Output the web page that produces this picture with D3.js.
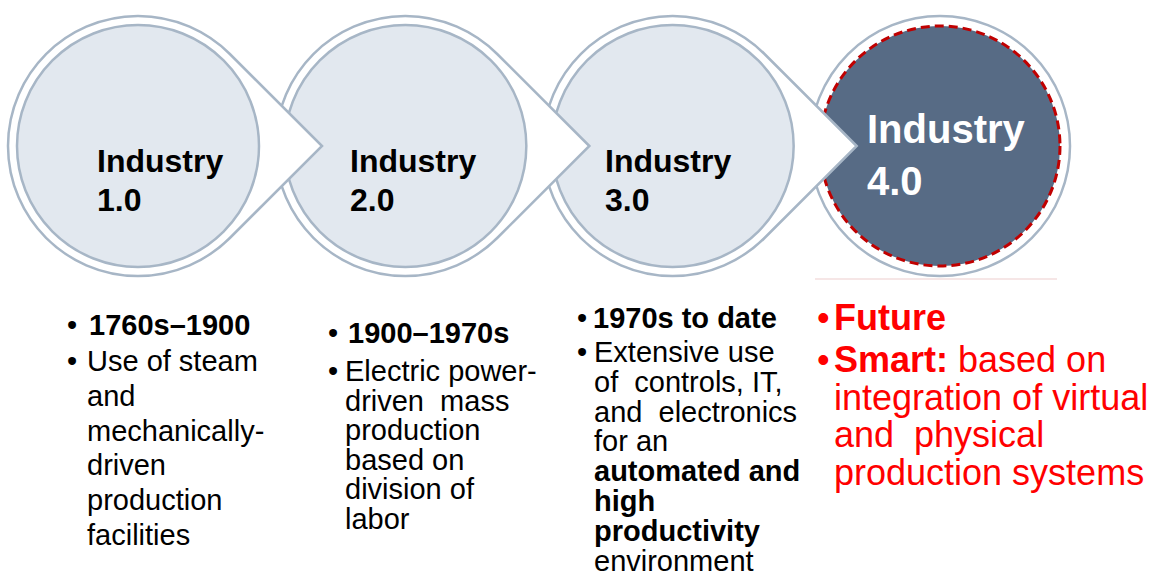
<!DOCTYPE html>
<html>
<head>
<meta charset="utf-8">
<script src="https://cdn.jsdelivr.net/npm/d3@7"></script>
<style>
  body { margin: 0; background: #fff; }
  svg { display: block; font-family: "Liberation Sans", Arial, sans-serif; }
</style>
</head>
<body>
<svg width="1154" height="577"></svg>
<script>
// stages of the industry timeline
const stages = ["1.0", "2.0", "3.0", "4.0"];
const stageWord = "Industry";
const periods = ["1760s–1900", "1900–1970s", "1970s to date", "Future"];

// description lines per stage, each line is a list of [text, bold]
const desc1 = [
  [["Use of steam", false]],
  [["and", false]],
  [["mechanically-", false]],
  [["driven", false]],
  [["production", false]],
  [["facilities", false]]
];
const desc2 = [
  [["Electric power-", false]],
  [["driven  mass", false]],
  [["production", false]],
  [["based on", false]],
  [["division of", false]],
  [["labor", false]]
];
const desc3 = [
  [["Extensive use", false]],
  [["of  controls, IT,", false]],
  [["and  electronics", false]],
  [["for an", false]],
  [["automated and", true]],
  [["high", true]],
  [["productivity", true]],
  [["environment", false]]
];
const desc4 = [
  [["Smart:", true], [" based on", false]],
  [["integration of virtual", false]],
  [["and  physical", false]],
  [["production systems", false]]
];
const descriptions = [desc1, desc2, desc3, desc4];

// layout
const svg = d3.select("svg");
const cy = 146;
const outerR = 130, innerR = 121;
const tipOffset = 184;
const grey = "#a7b6c6";

const x = d3.scaleLinear()
    .domain([0, stages.length - 1])
    .range([138, 940]);

// outline of circle plus arrow point to the right
function outline(cx, withArrow) {
  if (!withArrow) {
    return `M${cx - outerR},${cy} A${outerR},${outerR} 0 1 0 ${cx + outerR},${cy} A${outerR},${outerR} 0 1 0 ${cx - outerR},${cy} Z`;
  }
  const th = Math.acos(outerR / tipOffset);
  const ux = cx + outerR * Math.cos(th), uy = cy - outerR * Math.sin(th);
  const ly = cy + outerR * Math.sin(th);
  return `M${cx + tipOffset},${cy} L${ux},${uy} A${outerR},${outerR} 0 1 0 ${ux},${ly} Z`;
}

// draw from last to first so each arrow sits on top of the next circle
const shapes = svg.append("g");
d3.range(stages.length - 1, -1, -1).forEach(function(i) {
  const last = i === stages.length - 1;
  const g = shapes.append("g");
  g.append("path")
      .attr("d", outline(x(i), !last))
      .attr("fill", "#fff")
      .attr("stroke", grey)
      .attr("stroke-width", 2.5);
  g.append("circle")
      .attr("cx", x(i))
      .attr("cy", cy)
      .attr("r", last ? innerR - 1 : innerR)
      .attr("fill", last ? "#576b85" : "#e2e8ef")
      .attr("stroke", last ? "#c00000" : grey)
      .attr("stroke-width", last ? 3 : 2.5)
      .attr("stroke-dasharray", last ? "9,5" : null);
});

// faint line under the last circle
svg.append("line")
    .attr("x1", x(3) - 125).attr("x2", x(3) + 117)
    .attr("y1", 279).attr("y2", 279)
    .attr("stroke", "#f3dede")
    .attr("stroke-width", 1.5);

// circle labels
const labelX = [97, 350, 605, 867];
stages.forEach(function(s, i) {
  const last = i === stages.length - 1;
  const t = svg.append("text")
      .attr("font-weight", "bold")
      .attr("font-size", last ? 40 : 32)
      .attr("fill", last ? "#fff" : "#000");
  t.append("tspan").attr("x", labelX[i]).attr("y", last ? 143 : 172).text(stageWord);
  t.append("tspan").attr("x", labelX[i]).attr("y", last ? 195 : 211).text(s);
});

// bullet columns
const cols = [
  { bx: 67, tx: 89, lx: 87, y0: 335, y1: 371, dy: 34.8, size: 29, color: "#000" },
  { bx: 328, tx: 348, lx: 345, y0: 343, y1: 381, dy: 29.5, size: 29, color: "#000" },
  { bx: 577, tx: 593, lx: 594, y0: 328, y1: 362, dy: 29.8, size: 29, color: "#000" },
  { bx: 817, tx: 834, lx: 834, y0: 330, y1: 372, dy: 37.5, size: 36, color: "#ff0000" }
];

cols.forEach(function(c, i) {
  const g = svg.append("g")
      .attr("font-size", c.size)
      .attr("fill", c.color);

  // first bullet: the period
  g.append("text").attr("x", c.bx).attr("y", c.y0).text("•");
  g.append("text")
      .attr("x", c.tx).attr("y", c.y0)
      .attr("font-weight", "bold")
      .text(periods[i]);

  // second bullet: the description
  g.append("text").attr("x", c.bx).attr("y", c.y1).text("•");
  descriptions[i].forEach(function(line, j) {
    const t = g.append("text")
        .attr("x", c.lx)
        .attr("y", c.y1 + j * c.dy)
        .attr("xml:space", "preserve")
        .style("white-space", "pre");
    line.forEach(function(seg) {
      t.append("tspan")
          .attr("font-weight", seg[1] ? "bold" : "normal")
          .text(seg[0]);
    });
  });
});
</script>
</body>
</html>
